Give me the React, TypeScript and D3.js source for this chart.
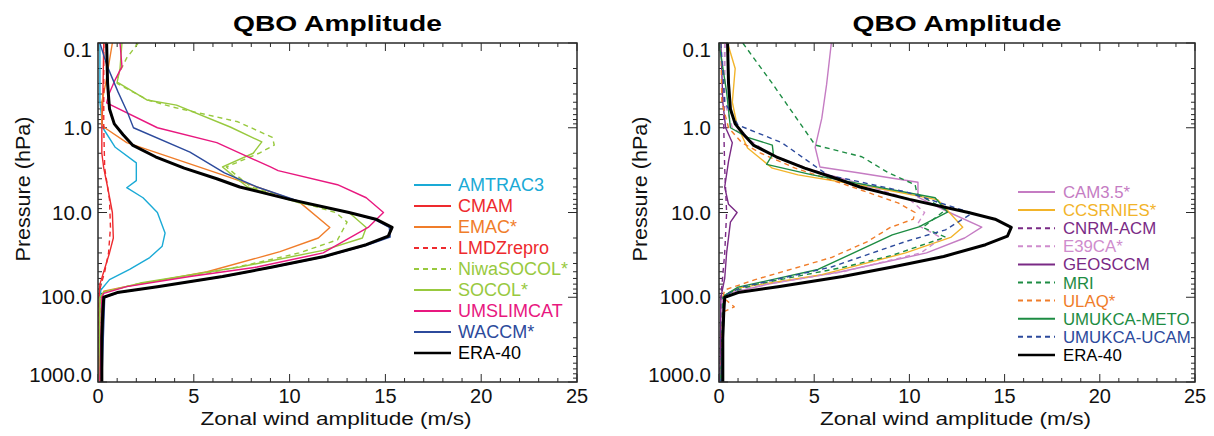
import React from "react";
import * as d3 from "d3";

type Pt = [number, number]; // [pressure hPa, amplitude m/s]

// ---------------- data ----------------
const era40: Pt[] = [[0.1,0.45],[0.3,0.5],[0.6,0.6],[0.9,0.85],[1.2,1.3],[1.6,1.8],[2.2,3.0],[3,4.5],[4,6.2],[5,7.4],[7,10.0],[10,13.1],[12,14.5],[15,15.35],[19,15.15],[24,14.0],[33,11.8],[44,9.1],[57,6.5],[75,3.1],[88,1.0],[100,0.3],[150,0.25],[300,0.2],[1000,0.2]];

const amtrac3: Pt[] = [[0.1,0.1],[0.5,0.1],[1,0.25],[1.7,0.9],[2.6,2.0],[3.6,2.0],[4.2,2.0],[5.1,1.5],[6.7,2.35],[10,3.1],[17.5,3.5],[25,3.35],[34,2.7],[47,1.65],[62,0.6],[82,0.15],[100,0.1],[1000,0.05]];
const cmam: Pt[] = [[0.1,0.3],[0.5,0.25],[1,0.2],[2,0.2],[3,0.3],[5,0.5],[10,0.75],[20,0.8],[30,0.6],[50,0.3],[70,0.1],[100,0.05],[1000,0.05]];
const emac: Pt[] = [[0.1,0.75],[0.3,0.4],[0.5,0.2],[0.9,0.2],[1,0.35],[1.5,1.5],[3.6,6.5],[5,8.3],[7.5,10.5],[15,12.1],[20,11.5],[29,9.5],[50,5.7],[76,1.3],[85,0.3],[100,0.2],[1000,0.1]];
const lmdz: Pt[] = [[0.1,0.3],[1,0.3],[3,0.35],[7,0.6],[15,0.65],[30,0.55],[50,0.35],[80,0.1],[100,0.05],[1000,0.05]];
const niwasocol: Pt[] = [[0.1,2.1],[0.15,1.5],[0.24,1.05],[0.3,1.0],[0.47,2.6],[0.57,3.9],[0.85,7.3],[1.3,9.1],[1.6,9.2],[2.0,8.4],[2.9,6.7],[3.6,7.2],[5,8.0],[7.5,10.5],[10,12.4],[13,13.0],[21,12.5],[30,10.5],[41,7.9],[52,5.7],[70,2.0],[87,0.3],[100,0.15],[1000,0.1]];
const socol: Pt[] = [[0.1,1.25],[0.2,1.15],[0.29,1.0],[0.47,2.55],[0.54,4.1],[0.98,6.9],[1.47,8.55],[2.0,8.1],[2.9,6.5],[3.6,7.0],[5,7.8],[7.7,10.5],[10,13.1],[15,14.0],[20,13.8],[28,11.75],[44,7.4],[68,2.2],[87,0.3],[100,0.1],[1000,0.05]];
const umslimcat: Pt[] = [[0.1,1.15],[0.19,1.25],[0.27,0.9],[0.41,0.55],[0.51,0.45],[1,3.1],[1.5,6.2],[2.9,9.0],[3.2,9.4],[4.7,12.5],[6.7,14.0],[10,14.9],[15,14.1],[30,11.75],[44,8.3],[57,4.8],[75,1.5],[90,0.3],[100,0.2],[1000,0.1]];
const waccm: Pt[] = [[0.1,0.1],[0.18,0.45],[0.38,1.05],[0.67,1.55],[1,1.85],[1.94,4.8],[3.4,6.6],[5,8.3],[7.5,10.6],[10,13.1],[12,14.4],[15,15.2],[19.5,15.25],[24,14.1],[33,11.9],[44,9.2],[57,6.6],[75,3.2],[88,1.1],[100,0.35],[1000,0.2]];

const cam35: Pt[] = [[0.1,5.9],[0.31,5.65],[0.77,5.4],[1.7,5.05],[2.9,5.3],[3.4,7.3],[4.4,10.45],[6.6,10.45],[10,12.1],[14.9,13.8],[20,12.9],[30,10.9],[50,6.4],[70,2.6],[90,0.5],[100,0.2],[1000,0.1]];
const ccsrnies: Pt[] = [[0.1,0.45],[0.2,0.85],[0.5,0.7],[0.93,0.95],[1.73,1.5],[3.0,2.8],[3.6,4.15],[5,8.0],[7.1,11.5],[14.9,12.8],[19.5,12.2],[30,9.8],[54,5.4],[78,1.0],[95,0.3],[1000,0.1]];
const cnrm: Pt[] = [[0.1,0.3],[1,0.25],[3,0.3],[10,0.4],[30,0.3],[100,0.1],[1000,0.05]];
const e39ca: Pt[] = [[0.1,0.3],[0.5,0.3],[1,0.7],[2,2.6],[3,4.6],[5,8.0],[7,10.0],[10,10.8],[14,10.4],[20,11.7],[30,10.6],[50,6.5],[70,2.5],[90,0.4],[100,0.2],[1000,0.1]];
const geosccm: Pt[] = [[0.1,0.1],[0.5,0.2],[1,0.35],[1.5,0.7],[2.5,0.5],[5,0.3],[8,0.5],[10,0.95],[13,0.6],[30,0.4],[60,0.3],[100,0.1],[1000,0.05]];
const mri: Pt[] = [[0.1,1.25],[0.3,2.8],[1.6,5.05],[2.2,7.5],[3.4,8.9],[4.7,10.3],[6,10.4],[9.3,11.9],[15,10.7],[19.5,11.9],[32,9.1],[44,6.6],[70,2.0],[90,0.4],[100,0.2],[1000,0.1]];
const ulaq: Pt[] = [[0.1,0.1],[0.5,0.15],[1,0.5],[1.5,1.2],[2,2.2],[3,4.0],[5,7.0],[7.7,9.4],[10,10.3],[12,10.2],[15,9.0],[22,7.8],[34,5.9],[62,1.9],[82,0.3],[100,0.2],[130,0.8],[150,0.2],[1000,0.1]];
const umukcaMeto: Pt[] = [[0.1,0.0],[0.38,0.4],[1,0.6],[1.3,1.5],[1.6,2.8],[2.0,2.85],[2.7,2.5],[3.6,4.9],[6.7,11.35],[9.9,12.0],[14.8,10.5],[18.4,9.1],[47,5.2],[76,1.0],[95,0.3],[1000,0.1]];
const umukcaUcam: Pt[] = [[0.1,0.1],[0.5,0.3],[0.93,1.0],[1.5,3.3],[3.6,5.7],[5.7,9.8],[10.2,13.3],[16,11.9],[22,9.8],[44,5.9],[76,1.2],[95,0.3],[1000,0.1]];

const yTickValues = [0.1, 1, 10, 100, 1000];
const yTickLabels = ["0.1", "1.0", "10.0", "100.0", "1000.0"];
const xTickValues = [0, 5, 10, 15, 20, 25];
const xTickLabels = ["0", "5", "10", "15", "20", "25"];

interface Series { name: string; color: string; dashed: boolean; data: Pt[]; width?: number }

const leftSeries: Series[] = [
  { name: "AMTRAC3", color: "#1aaad6", dashed: false, data: amtrac3 },
  { name: "CMAM", color: "#ee2a2e", dashed: false, data: cmam },
  { name: "EMAC*", color: "#f07d2a", dashed: false, data: emac },
  { name: "LMDZrepro", color: "#ee2a2e", dashed: true, data: lmdz },
  { name: "NiwaSOCOL*", color: "#98c93e", dashed: true, data: niwasocol },
  { name: "SOCOL*", color: "#98c93e", dashed: false, data: socol },
  { name: "UMSLIMCAT", color: "#e8187f", dashed: false, data: umslimcat },
  { name: "WACCM*", color: "#2c4a9c", dashed: false, data: waccm },
  { name: "ERA-40", color: "#000000", dashed: false, data: era40, width: 3 },
];

const rightSeries: Series[] = [
  { name: "CAM3.5*", color: "#c57cc3", dashed: false, data: cam35 },
  { name: "CCSRNIES*", color: "#f2b42a", dashed: false, data: ccsrnies },
  { name: "CNRM-ACM", color: "#7a2a85", dashed: true, data: cnrm },
  { name: "E39CA*", color: "#cf8ccd", dashed: true, data: e39ca },
  { name: "GEOSCCM", color: "#7a2a85", dashed: false, data: geosccm },
  { name: "MRI", color: "#1d8c43", dashed: true, data: mri },
  { name: "ULAQ*", color: "#f07d2a", dashed: true, data: ulaq },
  { name: "UMUKCA-METO", color: "#1d8c43", dashed: false, data: umukcaMeto },
  { name: "UMUKCA-UCAM", color: "#2c4a9c", dashed: true, data: umukcaUcam },
  { name: "ERA-40", color: "#000000", dashed: false, data: era40, width: 3 },
];

const FONT = "'Liberation Sans', Arial, Helvetica, sans-serif";

interface PanelProps {
  x0: number; x1: number; series: Series[];
  yLabelX: number; tickLabelX: number;
  legend: { lineX0: number; lineX1: number; textX: number; y0: number; dy: number; fontSize: number };
}

function Panel({ x0, x1, series, yLabelX, tickLabelX, legend }: PanelProps) {
  const top = 43, bottom = 382;
  const x = d3.scaleLinear().domain([0, 25]).range([x0, x1]);
  const y = d3.scaleLog().domain([0.1, 1000]).range([top, bottom]);
  const line = d3.line<Pt>().x((d) => x(d[1])).y((d) => y(d[0]));
  const axisColor = "#2a2a2a";

  const xMinor = d3.range(0, 26, 1);
  const yMinor: number[] = [];
  [0.1, 1, 10, 100].forEach((dec) => { for (let k = 2; k <= 9; k++) yMinor.push(dec * k); });

  const cx = (x0 + x1) / 2;
  const yLabelBaseline = (v: number, i: number) => {
    if (i === 0) return y(v) + 14;
    if (i === yTickValues.length - 1) return y(v);
    return y(v) + 7;
  };
  return (
    <g>
      <defs>
        <clipPath id={`clip${x0}`}>
          <rect x={x0} y={top} width={x1 - x0} height={bottom - top} />
        </clipPath>
      </defs>
      <text x={cx} y={31} textAnchor="middle" fontFamily={FONT} fontWeight="bold" fontSize={22}
        textLength={209} lengthAdjust="spacingAndGlyphs">QBO Amplitude</text>
      {/* ticks */}
      {xMinor.map((v) => {
        const len = v % 5 === 0 ? 8 : 4;
        return (
          <g key={`xt${v}`} stroke={axisColor} strokeWidth={1}>
            <line x1={x(v)} x2={x(v)} y1={bottom} y2={bottom - len} />
            <line x1={x(v)} x2={x(v)} y1={top} y2={top + len} />
          </g>
        );
      })}
      {yMinor.map((v) => (
        <g key={`ym${v}`} stroke={axisColor} strokeWidth={1}>
          <line x1={x0} x2={x0 + 4} y1={y(v)} y2={y(v)} />
          <line x1={x1} x2={x1 - 4} y1={y(v)} y2={y(v)} />
        </g>
      ))}
      {yTickValues.map((v) => (
        <g key={`yM${v}`} stroke={axisColor} strokeWidth={1}>
          <line x1={x0} x2={x0 + 9} y1={y(v)} y2={y(v)} />
          <line x1={x1} x2={x1 - 9} y1={y(v)} y2={y(v)} />
        </g>
      ))}
      {/* curves */}
      <g clipPath={`url(#clip${x0})`}>
        {series.map((s) => (
          <path key={s.name} d={line(s.data) || ""} fill="none" stroke={s.color}
            strokeWidth={s.width ?? 1.4} strokeDasharray={s.dashed ? "5,4" : undefined}
            strokeLinejoin="round" />
        ))}
      </g>
      <rect x={x0} y={top} width={x1 - x0} height={bottom - top} fill="none" stroke={axisColor} strokeWidth={1.5} />
      {/* tick labels */}
      {yTickValues.map((v, i) => (
        <text key={`yl${v}`} x={tickLabelX} y={yLabelBaseline(v, i)} textAnchor="end" fontFamily={FONT} fontSize={20.5} fill="#111">{yTickLabels[i]}</text>
      ))}
      {xTickValues.map((v, i) => (
        <text key={`xl${v}`} x={x(v)} y={403} textAnchor="middle" fontFamily={FONT} fontSize={20} fill="#111">{xTickLabels[i]}</text>
      ))}
      <text x={cx - 1.5} y={425} textAnchor="middle" fontFamily={FONT} fontSize={17.5} fill="#111"
        textLength={271} lengthAdjust="spacingAndGlyphs">Zonal wind amplitude (m/s)</text>
      <text transform={`translate(${yLabelX},189) rotate(-90)`} textAnchor="middle" fontFamily={FONT} fontSize={20} fill="#111"
        textLength={145} lengthAdjust="spacingAndGlyphs">Pressure (hPa)</text>
      {/* legend */}
      {series.map((s, i) => {
        const ly = legend.y0 + i * legend.dy;
        return (
          <g key={`lg${s.name}`}>
            <line x1={legend.lineX0} x2={legend.lineX1} y1={ly} y2={ly} stroke={s.color}
              strokeWidth={s.width ? 2.5 : 2} strokeDasharray={s.dashed ? "5,4" : undefined} />
            <text x={legend.textX} y={ly + legend.fontSize * 0.36} fontFamily={FONT} fontSize={legend.fontSize} fill={s.name === "ERA-40" ? "#000" : s.color}>{s.name}</text>
          </g>
        );
      })}
    </g>
  );
}

export default function App() {
  return (
    <svg width={1214} height={436} style={{ position: "absolute", left: 0, top: 0, background: "#fff" }}>
      <Panel x0={98} x1={577} series={leftSeries} yLabelX={30} tickLabelX={92}
        legend={{ lineX0: 414, lineX1: 451, textX: 458, y0: 185, dy: 21, fontSize: 18 }} />
      <Panel x0={719} x1={1195} series={rightSeries} yLabelX={647} tickLabelX={711}
        legend={{ lineX0: 1018, lineX1: 1055, textX: 1063, y0: 192, dy: 18.1, fontSize: 16.8 }} />
    </svg>
  );
}
